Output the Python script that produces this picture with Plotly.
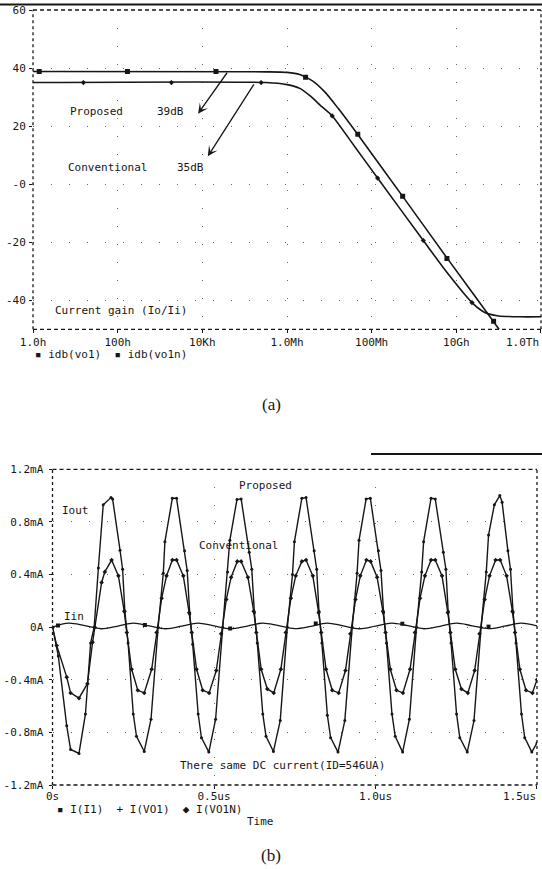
import plotly.graph_objects as go

W, H = 542, 869
MONO = "DejaVu Sans Mono"
INK = "#161616"

# ---------------- Panel (a): current gain vs frequency ----------------
prop_freq = [1, 3.2e5, 1.0e6, 2.0e6, 4.0e6, 7.9e6, 1.6e7, 4.7e7, 5.4e8, 6.0e9, 7.1e10, 1.02e11]
prop_db = [38.8, 38.7, 38.5, 37.8, 35.6, 31.7, 26.2, 17.1, -4.2, -25.4, -46.8, -50.0]
conv_freq = [1, 3.2e5, 1.0e6, 2.0e6, 3.6e6, 6.3e6, 1.17e7, 4.0e7, 1.38e8, 1.66e9, 6.3e9,
             2.34e10, 4.0e10, 5.5e10, 1.0e11, 3.2e11, 1.0e12]
conv_db = [35.0, 35.0, 34.3, 33.0, 30.3, 27.0, 23.5, 12.9, 2.1, -19.4, -30.8,
           -40.8, -43.6, -44.6, -45.4, -45.7, -45.7]
prop_mk_freq = [1.4, 170, 2.1e4, 2.75e6, 4.7e7, 5.4e8, 6.0e9, 7.6e10]
prop_mk_db = [38.8, 38.8, 38.8, 36.8, 17.2, -4.2, -25.6, -47.2]
conv_mk_freq = [15.5, 1.86e3, 2.45e5, 1.17e7, 1.38e8, 1.66e9, 2.34e10]
conv_mk_db = [35.0, 35.0, 35.0, 23.5, 2.1, -19.4, -40.8]

a_xtick_vals = [1, 1e2, 1e4, 1e6, 1e8, 1e10, 1e12]
a_xtick_text = ["1.0h", "100h", "10Kh", "1.0Mh", "100Mh", "10Gh", ""]
a_last_xtick = "1.0Th"
a_ytick_vals = [60, 40, 20, 0, -20, -40]
a_ytick_text = ["60", "40", "20", "-0", "-20", "-40"]

# ---------------- Panel (b): transient currents ----------------
prop_t = [0.000, 0.018, 0.044, 0.056, 0.082, 0.102, 0.118, 0.129,
          0.142, 0.157, 0.181, 0.186, 0.209, 0.217, 0.224, 0.234, 0.250, 0.260, 0.284, 0.305, 0.327,
          0.343, 0.348, 0.371, 0.384, 0.409, 0.417, 0.425, 0.434, 0.451, 0.461, 0.484, 0.505, 0.527,
          0.542, 0.549, 0.571, 0.584, 0.609, 0.617, 0.625, 0.634, 0.651, 0.661, 0.684, 0.705, 0.727,
          0.743, 0.749, 0.772, 0.785, 0.810, 0.818, 0.825, 0.834, 0.851, 0.861, 0.884, 0.905, 0.928,
          0.943, 0.949, 0.971, 0.984, 1.009, 1.017, 1.025, 1.034, 1.051, 1.061, 1.084, 1.105, 1.127,
          1.143, 1.149, 1.172, 1.185, 1.210, 1.218, 1.225, 1.234, 1.251, 1.261, 1.284, 1.305, 1.327,
          1.343, 1.350, 1.368, 1.385, 1.392, 1.410, 1.418, 1.426, 1.435, 1.452, 1.462, 1.484, 1.500]
prop_ma = [0.0, -0.22, -0.75, -0.93, -0.96, -0.66, -0.12, 0.0,
           0.45, 0.93, 0.985, 0.975, 0.585, 0.44, 0.12, -0.12, -0.66, -0.83, -0.945, -0.70, 0.0,
           0.41, 0.65, 0.98, 0.98, 0.58, 0.43, 0.10, -0.13, -0.66, -0.84, -0.95, -0.70, 0.0,
           0.42, 0.66, 0.97, 0.975, 0.57, 0.44, 0.11, -0.12, -0.66, -0.83, -0.945, -0.71, 0.0,
           0.40, 0.65, 0.98, 0.985, 0.58, 0.44, 0.12, -0.12, -0.67, -0.84, -0.95, -0.71, 0.0,
           0.41, 0.66, 0.975, 0.98, 0.58, 0.43, 0.11, -0.12, -0.66, -0.83, -0.95, -0.70, 0.0,
           0.42, 0.65, 0.98, 0.975, 0.57, 0.44, 0.12, -0.12, -0.66, -0.84, -0.95, -0.71, 0.0,
           0.42, 0.70, 0.93, 1.0, 0.95, 0.58, 0.44, 0.11, -0.12, -0.66, -0.84, -0.95, -0.88]

conv_t = [0.000, 0.013, 0.044, 0.056, 0.082, 0.108, 0.124, 0.131,
          0.152, 0.162, 0.183, 0.204, 0.222, 0.230, 0.245, 0.264, 0.284, 0.307, 0.322,
          0.338, 0.353, 0.371, 0.384, 0.405, 0.423, 0.431, 0.446, 0.465, 0.485, 0.507, 0.522,
          0.538, 0.553, 0.572, 0.584, 0.605, 0.623, 0.631, 0.646, 0.665, 0.685, 0.707, 0.722,
          0.738, 0.753, 0.772, 0.785, 0.806, 0.824, 0.832, 0.847, 0.866, 0.886, 0.907, 0.922,
          0.938, 0.953, 0.972, 0.985, 1.005, 1.023, 1.031, 1.046, 1.065, 1.085, 1.107, 1.122,
          1.138, 1.153, 1.172, 1.185, 1.206, 1.224, 1.232, 1.247, 1.266, 1.286, 1.307, 1.322,
          1.338, 1.353, 1.372, 1.386, 1.406, 1.424, 1.432, 1.447, 1.466, 1.486, 1.500]
conv_ma = [0.0, -0.14, -0.38, -0.50, -0.54, -0.43, -0.115, 0.0,
           0.34, 0.42, 0.51, 0.39, 0.12, -0.04, -0.32, -0.48, -0.50, -0.32, -0.04,
           0.22, 0.39, 0.51, 0.51, 0.39, 0.11, -0.04, -0.32, -0.48, -0.50, -0.33, -0.05,
           0.21, 0.38, 0.50, 0.50, 0.38, 0.12, -0.04, -0.32, -0.47, -0.50, -0.32, -0.04,
           0.22, 0.39, 0.50, 0.51, 0.39, 0.11, -0.04, -0.32, -0.48, -0.50, -0.33, -0.05,
           0.21, 0.39, 0.51, 0.50, 0.38, 0.12, -0.04, -0.32, -0.48, -0.50, -0.32, -0.04,
           0.22, 0.39, 0.51, 0.51, 0.39, 0.11, -0.04, -0.32, -0.47, -0.50, -0.33, -0.05,
           0.21, 0.39, 0.51, 0.51, 0.39, 0.12, -0.04, -0.32, -0.48, -0.50, -0.40]

iin_t = [0.00, 0.05, 0.10, 0.15, 0.20, 0.25, 0.30, 0.35, 0.40, 0.45, 0.50,
         0.55, 0.60, 0.65, 0.70, 0.75, 0.80, 0.85, 0.90, 0.95, 1.00,
         1.05, 1.10, 1.15, 1.20, 1.25, 1.30, 1.35, 1.40, 1.45, 1.50]
iin_ma = [0.0, 0.030, 0.011, -0.012, 0.006, 0.030, 0.010, -0.012, 0.007, 0.031, 0.010,
          -0.012, 0.006, 0.030, 0.011, -0.011, 0.006, 0.031, 0.010, -0.012, 0.007,
          0.030, 0.011, -0.012, 0.006, 0.030, 0.010, -0.011, 0.007, 0.031, 0.010]
iin_mk_t = [0.017, 0.286, 0.550, 0.815, 1.083, 1.350]
iin_mk_ma = [0.012, 0.017, -0.010, 0.028, 0.026, 0.004]

b_xtick_vals = [0, 0.5, 1.0, 1.5]
b_xtick_text = ["0s", "0.5us", "1.0us", ""]
b_last_xtick = "1.5us"
b_ytick_vals = [1.2, 0.8, 0.4, 0, -0.4, -0.8, -1.2]
b_ytick_text = ["1.2mA", "0.8mA", "0.4mA", "0A", "-0.4mA", "-0.8mA", "-1.2mA"]


def px_x(p):
    return p / W


def px_y(p):
    return 1 - p / H


fig = go.Figure()

# panel (a) traces
fig.add_trace(go.Scatter(x=prop_freq, y=prop_db, mode="lines", xaxis="x", yaxis="y",
                         line=dict(color=INK, width=1.6, shape="spline", smoothing=0.7)))
fig.add_trace(go.Scatter(x=conv_freq, y=conv_db, mode="lines", xaxis="x", yaxis="y",
                         line=dict(color=INK, width=1.6, shape="spline", smoothing=0.7)))
fig.add_trace(go.Scatter(x=prop_mk_freq, y=prop_mk_db, mode="markers", xaxis="x", yaxis="y",
                         marker=dict(symbol="square", size=5, color=INK)))
fig.add_trace(go.Scatter(x=conv_mk_freq, y=conv_mk_db, mode="markers", xaxis="x", yaxis="y",
                         marker=dict(symbol="diamond", size=4, color=INK)))

# panel (b) traces
fig.add_trace(go.Scatter(x=iin_t, y=iin_ma, mode="lines", xaxis="x2", yaxis="y2",
                         line=dict(color=INK, width=1.3, shape="spline", smoothing=1.0)))
fig.add_trace(go.Scatter(x=iin_mk_t, y=iin_mk_ma, mode="markers", xaxis="x2", yaxis="y2",
                         marker=dict(symbol="square", size=4, color=INK)))
fig.add_trace(go.Scatter(x=prop_t, y=prop_ma, mode="lines+markers", xaxis="x2", yaxis="y2",
                         line=dict(color=INK, width=1.4),
                         marker=dict(symbol="circle", size=3, color=INK)))
fig.add_trace(go.Scatter(x=conv_t, y=conv_ma, mode="lines+markers", xaxis="x2", yaxis="y2",
                         line=dict(color=INK, width=1.4),
                         marker=dict(symbol="diamond", size=3.5, color=INK)))

tickfont = dict(family=MONO, size=11, color=INK)
grid_kw = dict(showgrid=True, gridcolor="#6a6a6a", gridwidth=1, griddash="1px,17px",
               zeroline=False, showline=False, ticks="outside", ticklen=3,
               tickcolor=INK, tickwidth=1, tickfont=tickfont, automargin=False,
               ticklabeloverflow="allow")

fig.update_layout(
    width=W, height=H,
    margin=dict(l=0, r=0, t=0, b=0, autoexpand=False),
    paper_bgcolor="white", plot_bgcolor="white",
    showlegend=False,
    xaxis=dict(domain=[px_x(33), px_x(541)], type="log", range=[-0.0005, 12.0005],
               tickvals=a_xtick_vals, ticktext=a_xtick_text, anchor="y",
               ticklabelstandoff=-1, **grid_kw),
    yaxis=dict(domain=[px_y(329.3), px_y(10)], range=[-50, 60],
               tickvals=a_ytick_vals, ticktext=a_ytick_text, anchor="x",
               ticklabelstandoff=1, **grid_kw),
    xaxis2=dict(domain=[px_x(52.5), px_x(537)], range=[-0.00005, 1.50005],
                tickvals=b_xtick_vals, ticktext=b_xtick_text, anchor="y2",
                ticklabelstandoff=-2, **grid_kw),
    yaxis2=dict(domain=[px_y(785), px_y(469.3)], range=[-1.2, 1.2],
                tickvals=b_ytick_vals, ticktext=b_ytick_text, anchor="x2",
                ticklabelstandoff=3, **grid_kw),
)

# frame lines (PSpice style dotted/dashed box)
def frame(xd, yd):
    return [
        dict(type="line", xref=xd, yref=yd, x0=0, x1=0, y0=0, y1=1,
             line=dict(color=INK, width=1.3, dash="dot")),
        dict(type="line", xref=xd, yref=yd, x0=0, x1=1, y0=1, y1=1,
             line=dict(color=INK, width=1.3, dash="4px,3px")),
        dict(type="line", xref=xd, yref=yd, x0=0, x1=1, y0=0, y1=0,
             line=dict(color=INK, width=1.3, dash="4px,3px")),
        dict(type="line", xref=xd, yref=yd, x0=1, x1=1, y0=0, y1=1,
             line=dict(color=INK, width=1.3, dash="dot")),
    ]

shapes = frame("x domain", "y domain") + frame("x2 domain", "y2 domain")
# scan edge lines
shapes.append(dict(type="line", xref="paper", yref="paper", x0=0, x1=1,
                   y0=px_y(4.5), y1=px_y(4.5), line=dict(color=INK, width=2)))
shapes.append(dict(type="line", xref="paper", yref="paper", x0=px_x(371), x1=1,
                   y0=px_y(454), y1=px_y(454), line=dict(color=INK, width=2)))
fig.update_layout(shapes=shapes)

afont = dict(family=MONO, size=11, color=INK)
ann = []


def txt(text, x, y, xref, yref, xanchor="left", font=afont):
    ann.append(dict(text=text, x=x, y=y, xref=xref, yref=yref, xanchor=xanchor,
                    yanchor="middle", showarrow=False, font=font))


# panel (a) texts (x in log10 units)
txt("Proposed", 0.83, 25.1, "x", "y")
txt("39dB", 2.88, 25.1, "x", "y")
txt("Conventional", 0.78, 5.8, "x", "y")
txt("35dB", 3.35, 5.8, "x", "y")
txt("Current gain (Io/Ii)", 0.48, -43.6, "x", "y")
ann.append(dict(x=3.90, y=24.3, ax=4.61, ay=38.9, xref="x", yref="y", axref="x", ayref="y",
                showarrow=True, arrowhead=3, arrowsize=1.3, arrowwidth=1.3, arrowcolor=INK, text=""))
ann.append(dict(x=4.13, y=9.6, ax=5.24, ay=34.9, xref="x", yref="y", axref="x", ayref="y",
                showarrow=True, arrowhead=3, arrowsize=1.3, arrowwidth=1.3, arrowcolor=INK, text=""))
# last tick label of each time/frequency axis, kept inside the page edge
txt(a_last_xtick, px_x(541), px_y(342), "paper", "paper", xanchor="right", font=tickfont)
txt(b_last_xtick, px_x(538), px_y(796), "paper", "paper", xanchor="right", font=tickfont)
txt("\u25aa idb(vo1)\u00a0\u00a0\u25aa idb(vo1n)", px_x(33), px_y(354), "paper", "paper")
txt("(a)", 0.5, px_y(405), "paper", "paper", xanchor="center",
    font=dict(family="Liberation Serif", size=17, color=INK))

# panel (b) texts
txt("Iout", 0.023, 0.89, "x2", "y2")
txt("Iin", 0.028, 0.083, "x2", "y2")
txt("Proposed", 0.57, 1.08, "x2", "y2")
txt("Conventional", 0.446, 0.62, "x2", "y2")
txt("There same DC current(ID=546UA)", 0.713, -1.05, "x2", "y2", xanchor="center")
txt("\u25aa I(I1)\u00a0\u00a0+ I(VO1)\u00a0\u00a0\u25c6 I(VO1N)", px_x(55), px_y(809.5), "paper", "paper")
txt("Time", px_x(260), px_y(821), "paper", "paper", xanchor="center")
txt("(b)", 0.5, px_y(855), "paper", "paper", xanchor="center",
    font=dict(family="Liberation Serif", size=17, color=INK))

fig.update_layout(annotations=ann)

fig.write_html("out.html", config={"displayModeBar": False},
               post_script="document.body.style.margin='0';")
